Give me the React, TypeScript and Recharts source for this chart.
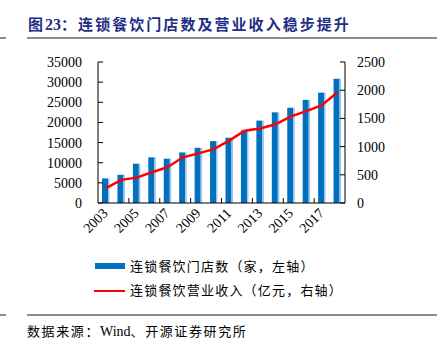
import { ComposedChart, Bar, Line, XAxis, YAxis } from "recharts";

const years = [
  "2003", "2004", "2005", "2006", "2007", "2008", "2009", "2010",
  "2011", "2012", "2013", "2014", "2015", "2016", "2017", "2018",
];
const storeCounts = [
  6100, 7000, 9750, 11350, 11000, 12550, 13700, 15350,
  16200, 18050, 20450, 22500, 23650, 25600, 27400, 30850,
];
const revenue = [
  260, 410, 450, 545, 635, 810, 880, 955,
  1105, 1280, 1320, 1395, 1535, 1630, 1735, 1960,
];
const leftTicks = [0, 5000, 10000, 15000, 20000, 25000, 30000, 35000];
const rightTicks = [0, 500, 1000, 1500, 2000, 2500];

const data = years.map((year, i) => ({ year, stores: storeCounts[i], revenue: revenue[i] }));

const PLOT_LEFT = 98;
const PLOT_RIGHT = 345;
const PLOT_BOTTOM = 203;
const BAND = (PLOT_RIGHT - PLOT_LEFT) / years.length;
const NUM_FONT = "'Liberation Serif', 'Times New Roman', serif";
const CJK_FONT = "'Noto Sans CJK SC', sans-serif";

function BarShape(props: any) {
  const { x, y, width, height } = props;
  if (!height || height <= 0) return null;
  const light = 1.5;
  return (
    <g>
      <rect x={x} y={y} width={width - light} height={height} fill="#0070C0" />
      <rect x={x + width - light} y={y} width={light} height={height} fill="#9DC3E6" />
    </g>
  );
}

function LeftTick(props: any) {
  const { y, payload } = props;
  return (
    <g>
      <line x1={PLOT_LEFT} x2={PLOT_LEFT + 5} y1={y} y2={y} stroke="#000" />
      <text x={PLOT_LEFT - 16} y={y} dy={5} textAnchor="end" fontSize={14} fontFamily={NUM_FONT} fill="#000">
        {payload.value}
      </text>
    </g>
  );
}

function RightTick(props: any) {
  const { y, payload } = props;
  return (
    <g>
      <line x1={PLOT_RIGHT - 5} x2={PLOT_RIGHT} y1={y} y2={y} stroke="#000" />
      <text x={PLOT_RIGHT + 12} y={y} dy={5} textAnchor="start" fontSize={14} fontFamily={NUM_FONT} fill="#000">
        {payload.value}
      </text>
    </g>
  );
}

function YearTick(props: any) {
  const { x, payload } = props;
  const ax = x + 3;
  const ay = PLOT_BOTTOM + 11;
  return (
    <g>
      {payload.value !== years[0] && (
        <line x1={x - BAND / 2} x2={x - BAND / 2} y1={PLOT_BOTTOM} y2={PLOT_BOTTOM - 5} stroke="#000" />
      )}
      <text
        x={ax}
        y={ay}
        textAnchor="end"
        fontSize={14}
        fontFamily={NUM_FONT}
        fill="#000"
        transform={`rotate(-45 ${ax} ${ay})`}
      >
        {payload.value}
      </text>
    </g>
  );
}

export default function App() {
  return (
    <div style={{ position: "absolute", left: 0, top: 0, width: 444, height: 341, background: "#fff" }}>
      <div
        style={{
          position: "absolute",
          left: 28,
          top: 13,
          fontFamily: CJK_FONT,
          fontWeight: "bold",
          fontSize: 15,
          letterSpacing: 2.05,
          color: "#1F2F86",
          whiteSpace: "nowrap",
          lineHeight: "22px",
        }}
      >
        图<span style={{ fontFamily: NUM_FONT, fontSize: 16, letterSpacing: 0 }}>23</span>：连锁餐饮门店数及营业收入稳步提升
      </div>
      <div style={{ position: "absolute", left: 0, top: 37, width: 6, height: 2, background: "#8C8C8C" }} />
      <div style={{ position: "absolute", left: 27, top: 37, width: 410, height: 2, background: "#8C8C8C" }} />

      <ComposedChart
        width={444}
        height={341}
        data={data}
        margin={{ top: 62, right: 0, bottom: 98, left: 0 }}
        style={{ position: "absolute", left: 0, top: 0 }}
      >
        <XAxis
          dataKey="year"
          interval={1}
          height={40}
          tick={<YearTick />}
          tickLine={false}
          axisLine={{ stroke: "#000" }}
        />
        <YAxis
          yAxisId="left"
          orientation="left"
          width={98}
          domain={[0, 35000]}
          ticks={leftTicks}
          tick={<LeftTick />}
          tickLine={false}
          axisLine={{ stroke: "#000" }}
          interval={0}
        />
        <YAxis
          yAxisId="right"
          orientation="right"
          width={99}
          domain={[0, 2500]}
          ticks={rightTicks}
          tick={<RightTick />}
          tickLine={false}
          axisLine={{ stroke: "#000" }}
          interval={0}
        />
        <Bar yAxisId="left" dataKey="stores" barSize={7.5} shape={<BarShape />} isAnimationActive={false} />
        <Line
          yAxisId="right"
          dataKey="revenue"
          type="linear"
          stroke="#FF0000"
          strokeWidth={2.5}
          dot={false}
          isAnimationActive={false}
        />
      </ComposedChart>

      <div style={{ position: "absolute", left: 95, top: 263, width: 30, height: 6, background: "#0070C0" }} />
      <div
        style={{
          position: "absolute",
          left: 130,
          top: 256,
          fontFamily: CJK_FONT,
          fontSize: 13,
          letterSpacing: 1.2,
          lineHeight: "20px",
          whiteSpace: "nowrap",
          color: "#000",
        }}
      >
        连锁餐饮门店数（家，左轴）
      </div>
      <div style={{ position: "absolute", left: 94, top: 289.5, width: 31, height: 2, background: "#FF0000" }} />
      <div
        style={{
          position: "absolute",
          left: 130,
          top: 280,
          fontFamily: CJK_FONT,
          fontSize: 13,
          letterSpacing: 1.2,
          lineHeight: "20px",
          whiteSpace: "nowrap",
          color: "#000",
        }}
      >
        连锁餐饮营业收入（亿元，右轴）
      </div>

      <div style={{ position: "absolute", left: 0, top: 314, width: 6, height: 2, background: "#8C8C8C" }} />
      <div style={{ position: "absolute", left: 27, top: 314, width: 410, height: 2, background: "#8C8C8C" }} />
      <div
        style={{
          position: "absolute",
          left: 27,
          top: 321,
          fontFamily: CJK_FONT,
          fontSize: 13,
          letterSpacing: 1.6,
          lineHeight: "20px",
          whiteSpace: "nowrap",
          color: "#000",
        }}
      >
        数据来源：<span style={{ fontFamily: NUM_FONT, fontSize: 14, letterSpacing: 0 }}>Wind</span>、开源证券研究所
      </div>
    </div>
  );
}
